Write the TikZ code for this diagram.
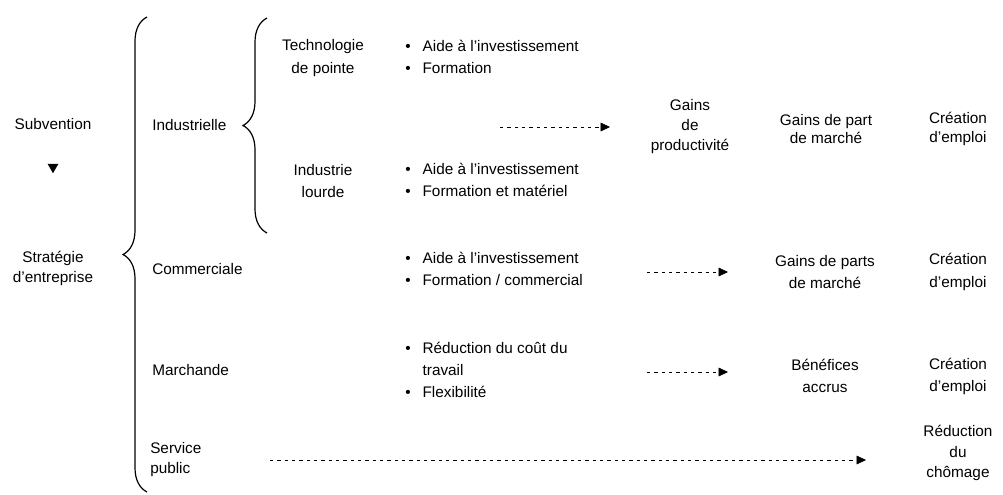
\documentclass[tikz,border=0pt]{standalone}
\usepackage{fontspec}
\setmainfont{Liberation Sans}
\usetikzlibrary{arrows.meta,decorations.pathreplacing,shapes.geometric}

\tikzset{
    lbl/.style={align=center, inner sep=0pt},
    lftlbl/.style={align=left, anchor=west, inner sep=0pt},
    blist/.style={anchor=west, inner sep=0pt},
    cbrace/.style={line width=0.9pt, decorate, decoration={brace, amplitude=18pt}},
    dasharrow/.style={-{Triangle[length=7pt,width=6.5pt]}, dash pattern=on 2.5pt off 3pt},
}
\newcommand{\bl}{\textbullet}

\begin{document}
\begin{tikzpicture}[x=0.75pt, y=-0.75pt, font=\fontsize{11.5}{17}\selectfont]
    \useasboundingbox (0,0) rectangle (1003,494);

    % Left column
    \node[lbl] (sub) at (53,124) {Subvention};
    \node[fill=black, isosceles triangle, isosceles triangle apex angle=60,
          shape border rotate=-90, inner sep=0pt, minimum height=7pt] (tri) at (53,167) {};
    \node[lbl, font=\fontsize{11.5}{15}\selectfont] (strat) at (53,268) {Stratégie\\d'entreprise};

    % Main brace
    \draw[cbrace] (147,492) -- (147,17);

    % Strategies
    \node[lftlbl] (ind) at (152,125) {Industrielle};
    \node[lftlbl] (com) at (152,269) {Commerciale};
    \node[lftlbl] (mar) at (152,370) {Marchande};
    \node[lftlbl, font=\fontsize{11.5}{15}\selectfont] (svc) at (150,460) {Service\\public};

    % Industry brace
    \draw[cbrace] (267,233) -- (267,18);

    \node[lbl] (tech) at (323,58) {Technologie\\de pointe};
    \node[lbl, font=\fontsize{11.5}{16.5}\selectfont] (lourd) at (323,181) {Industrie\\lourde};

    % Measures
    \node[blist] (l1) at (405,58) {\begin{tabular}{@{}l@{\hspace{9pt}}l@{}}
        \bl & Aide à l'investissement\\ \bl & Formation\end{tabular}};
    \node[blist] (l2) at (405,181) {\begin{tabular}{@{}l@{\hspace{9pt}}l@{}}
        \bl & Aide à l'investissement\\ \bl & Formation et matériel\end{tabular}};
    \node[blist] (l3) at (405,270) {\begin{tabular}{@{}l@{\hspace{9pt}}l@{}}
        \bl & Aide à l'investissement\\ \bl & Formation / commercial\end{tabular}};
    \node[blist, font=\fontsize{11.5}{16.8}\selectfont] (l4) at (405,371) {\begin{tabular}{@{}l@{\hspace{9pt}}l@{}}
        \bl & Réduction du coût du\\ & travail\\ \bl & Flexibilité\end{tabular}};

    % Results
    \node[lbl, font=\fontsize{11.5}{15}\selectfont] (prod) at (690,127) {Gains\\de\\productivité};
    \node[lbl, font=\fontsize{11.5}{14}\selectfont] (part1) at (826,129) {Gains de part\\de marché};
    \node[lbl, font=\fontsize{11.5}{14}\selectfont] (emp1) at (958,129) {Création\\d'emploi};
    \node[lbl] (part2) at (825,272) {Gains de parts\\de marché};
    \node[lbl] (emp2) at (958,272) {Création\\d'emploi};
    \node[lbl, font=\fontsize{11.5}{16.5}\selectfont] (bene) at (825,376) {Bénéfices\\accrus};
    \node[lbl, font=\fontsize{11.5}{16.5}\selectfont] (emp3) at (958,376) {Création\\d'emploi};
    \node[lbl, font=\fontsize{11.5}{15.5}\selectfont] (chom) at (958,453) {Réduction\\du\\chômage};

    % Dashed arrows
    \coordinate (a1s) at (500,127);  \coordinate (a1e) at (610,127);
    \coordinate (a2s) at (647,272);  \coordinate (a2e) at (728,272);
    \coordinate (a3s) at (647,372);  \coordinate (a3e) at (728,372);
    \coordinate (a4s) at (270,460);  \coordinate (a4e) at (866,460);
    \draw[dasharrow] (a1s) -- (a1e);
    \draw[dasharrow] (a2s) -- (a2e);
    \draw[dasharrow] (a3s) -- (a3e);
    \draw[dasharrow] (a4s) -- (a4e);
\end{tikzpicture}
\end{document}
